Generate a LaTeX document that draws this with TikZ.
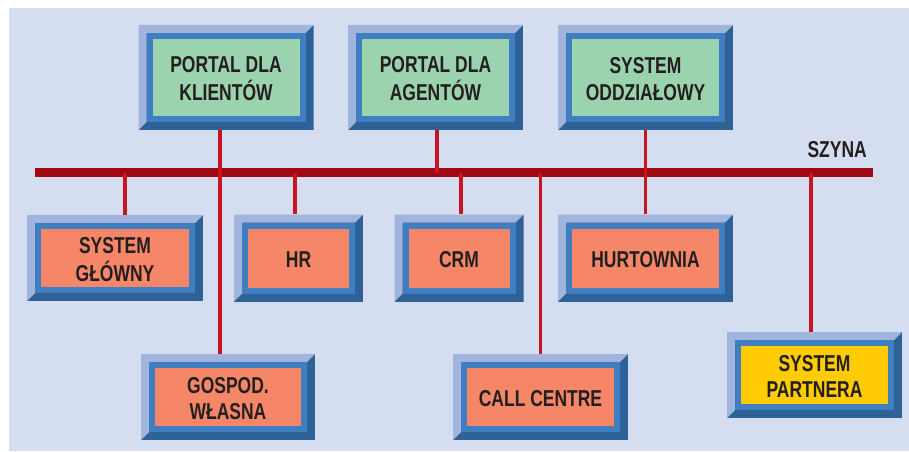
\documentclass[tikz,border=0pt]{standalone}
\usepackage{fontspec}
\newfontfamily\boxfont[FakeStretch=0.76]{Liberation Sans}
\usetikzlibrary{calc}
\definecolor{bg}{HTML}{D5DEF0}
\definecolor{bvlight}{HTML}{A0B4DC}
\definecolor{bvdark}{HTML}{2E6196}
\definecolor{bvframe}{HTML}{3F7EC1}
\definecolor{fgreen}{HTML}{9BD3AE}
\definecolor{fsalmon}{HTML}{F58768}
\definecolor{fyellow}{HTML}{FFCB05}
\definecolor{txt}{HTML}{231F20}
\definecolor{busred}{HTML}{A00812}
\definecolor{dropred}{HTML}{C8141E}
\newcommand\btxt[1]{\raisebox{-4pt}[\height][\depth]{\begin{tabular}{@{}c@{}}#1\end{tabular}}}
\tikzset{
  lbl/.style={font=\boxfont\bfseries\fontsize{23}{26.5}\selectfont, text=txt, align=center},
  bevbox/.style={lbl, inner sep=0pt, path picture={
     \coordinate (SW) at (path picture bounding box.south west);
     \coordinate (NE) at (path picture bounding box.north east);
     \fill[bvdark] (SW) rectangle (NE);
     \fill[bvlight] (SW) -- (SW |- NE) -- (NE) -- ($(NE)+(-8,-8)$) -- ($(SW |- NE)+(8,-8)$) -- ($(SW)+(8,8)$) -- cycle;
     \fill[bvframe] ($(SW)+(8,8)$) rectangle ($(NE)+(-8,-8)$);
     \fill[#1] ($(SW)+(14,14)$) rectangle ($(NE)+(-14,-14)$);
  }},
  bigbox/.style={bevbox=#1, minimum width=175pt, minimum height=105pt},
  lowbox/.style={bevbox=#1, minimum width=175pt, minimum height=86pt},
  smallbox/.style={bevbox=#1, minimum width=129pt, minimum height=87pt},
  wire/.style={dropred, line width=3.5pt},
  busline/.style={busred, line width=9pt},
}
\begin{document}
\begin{tikzpicture}[x=1pt,y=1pt]
\useasboundingbox (0,0) rectangle (909,451);
\fill[white] (0,0) rectangle (909,451);
\fill[bg] (9,0) rectangle (909,443);

% top row
\node[bigbox=fgreen] (kl) at (226,373.5) {\btxt{PORTAL DLA\\KLIENTÓW}};
\node[bigbox=fgreen] (ag) at (435.5,373.5) {\btxt{PORTAL DLA\\AGENTÓW}};
\node[bigbox=fgreen] (od) at (645.5,373.5) {\btxt{SYSTEM\\ODDZIAŁOWY}};

% middle row
\node[lowbox=fsalmon, minimum width=176pt] (gl) at (115,193) {\btxt{SYSTEM\\GŁÓWNY}};
\node[smallbox=fsalmon] (hr) at (298.5,193) {\btxt{HR}};
\node[smallbox=fsalmon] (crm) at (459,193) {\btxt{CRM}};
\node[lowbox=fsalmon, minimum height=87pt] (hu) at (645.5,193) {\btxt{HURTOWNIA}};

% bottom row
\node[lowbox=fsalmon, minimum width=174pt] (gos) at (228,54) {\btxt{GOSPOD.\\WŁASNA}};
\node[lowbox=fsalmon] (cc) at (540.5,54) {\btxt{CALL CENTRE}};
\node[lowbox=fyellow] (pa) at (814.5,76) {\btxt{SYSTEM\\PARTNERA}};

% bus
\coordinate (busL) at (35,278.5);
\coordinate (busR) at (873,278.5);
\draw[busline] (busL) -- (busR);
\node[lbl, anchor=base east, inner sep=0pt] (szyna) at (867,294) {SZYNA};

% drops
\draw[wire] ([xshift=-6pt]kl.south) -- ([xshift=-6pt]kl.south |- gos.north);
\draw[wire] ([xshift=1.5pt]ag.south) -- ([xshift=1.5pt]ag.south |- busL);
\draw[wire] (od.south) -- (od.south |- hu.north);
\draw[wire] ([xshift=10pt]gl.north |- busL) -- ([xshift=10pt]gl.north);
\draw[wire] ([xshift=-3.5pt]hr.north |- busL) -- ([xshift=-3.5pt]hr.north);
\draw[wire] ([xshift=2pt]crm.north |- busL) -- ([xshift=2pt]crm.north);
\draw[wire] (cc.north |- busL) -- (cc.north);
\draw[wire] ([xshift=-3.5pt]pa.north |- busL) -- ([xshift=-3.5pt]pa.north);
\end{tikzpicture}
\end{document}
